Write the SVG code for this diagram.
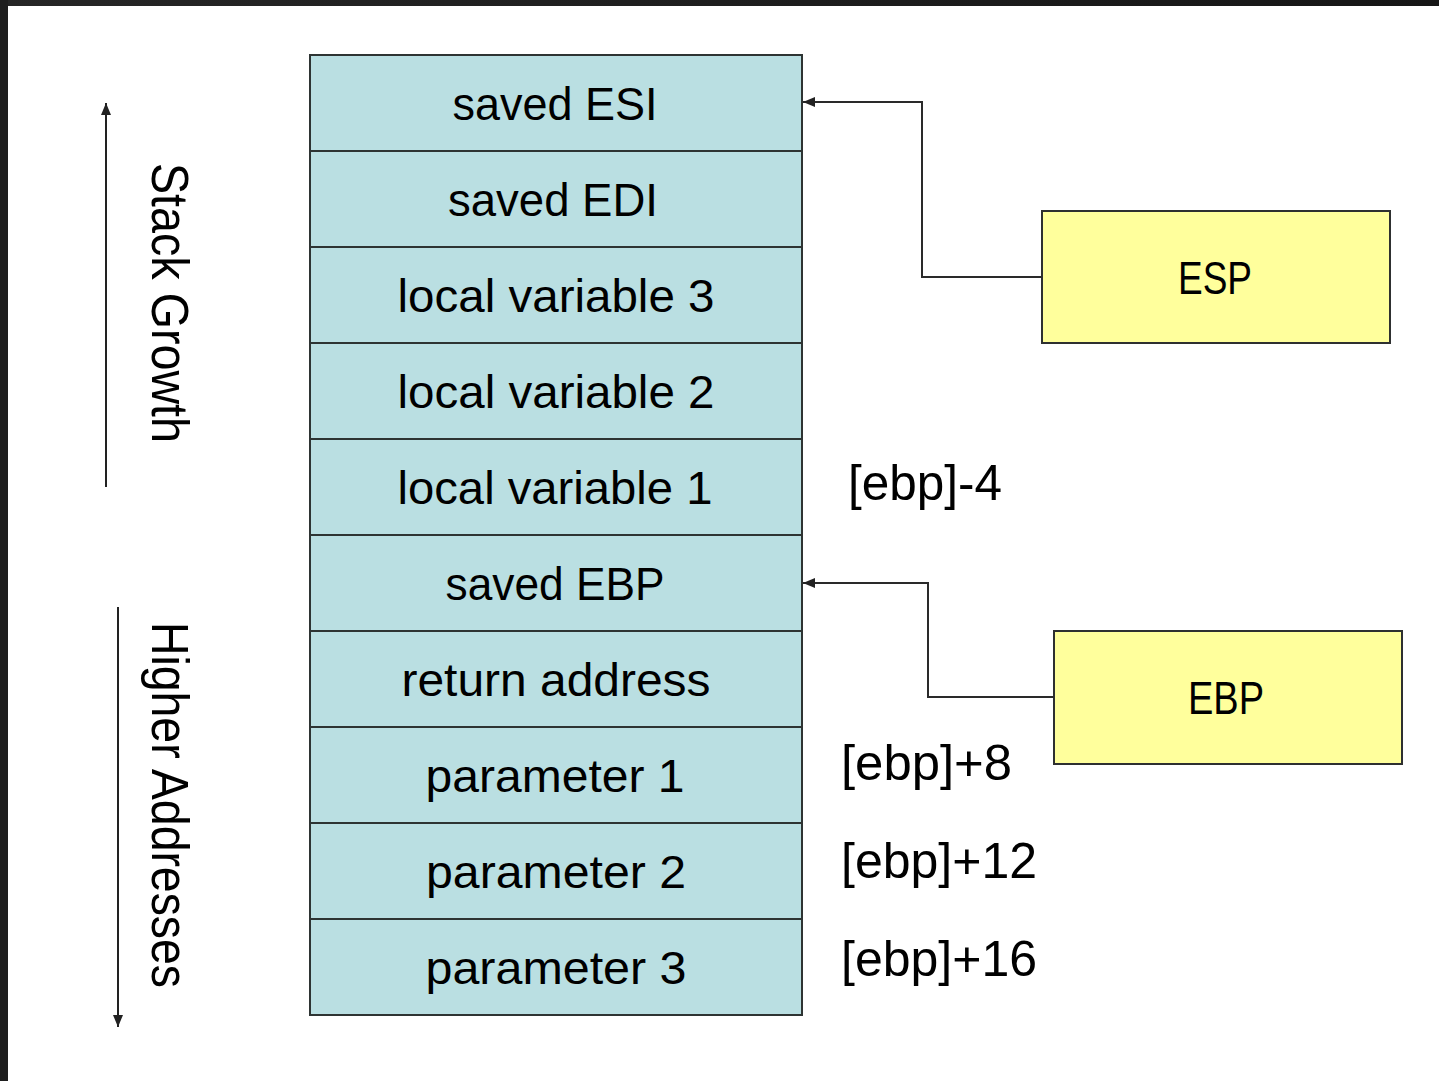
<svg xmlns="http://www.w3.org/2000/svg" width="1439" height="1081" viewBox="0 0 1439 1081">
  <defs>
    <linearGradient id="frameGrad" x1="0" y1="0" x2="1" y2="0">
      <stop offset="0" stop-color="#262626"/>
      <stop offset="1" stop-color="#161616"/>
    </linearGradient>
    <marker id="arrowHead" viewBox="0 0 12 10" refX="12" refY="5" markerWidth="12" markerHeight="10" markerUnits="userSpaceOnUse" orient="auto">
      <path d="M0,0 L12,5 L0,10 z" fill="#222"/>
    </marker>
    <style>
      .cell { fill: #BADFE2; stroke: #2e3433; stroke-width: 2; }
      .reg { fill: #FFFF9C; stroke: #2e3030; stroke-width: 2; }
      .cellText { font-family: "Liberation Sans", Arial, sans-serif; font-size: 46px; fill: #000; text-anchor: middle; }
      .regText { font-family: "Liberation Sans", Arial, sans-serif; font-size: 47px; fill: #000; text-anchor: middle; }
      .offText { font-family: "Liberation Sans", Arial, sans-serif; font-size: 50px; fill: #000; }
      .axisText { font-family: "Liberation Sans", Arial, sans-serif; font-size: 52px; fill: #000; }
      .conn { fill: none; stroke: #2a2a2a; stroke-width: 2; }
      .axis { fill: none; stroke: #222; stroke-width: 2; }
    </style>
  </defs>

  <!-- background and dark frame along the top and left edges -->
  <rect x="0" y="0" width="1439" height="1081" fill="#ffffff"/>
  <rect x="0" y="0" width="1439" height="6" fill="url(#frameGrad)"/>
  <rect x="0" y="0" width="8" height="1081" fill="#1e1e1e"/>

  <!-- direction indicators -->
  <g id="stack-growth">
    <line class="axis" x1="106" y1="487" x2="106" y2="103" marker-end="url(#arrowHead)"/>
    <text class="axisText" transform="translate(152,163) rotate(90)" textLength="280" lengthAdjust="spacingAndGlyphs">Stack Growth</text>
  </g>
  <g id="higher-addresses">
    <line class="axis" x1="118" y1="607" x2="118" y2="1027" marker-end="url(#arrowHead)"/>
    <text class="axisText" transform="translate(152,622) rotate(90)" textLength="366" lengthAdjust="spacingAndGlyphs">Higher Addresses</text>
  </g>

  <!-- stack frame cells, top (lowest address) to bottom -->
  <g id="cell-saved-esi">
    <rect class="cell" x="310" y="55" width="492" height="96"/>
    <text class="cellText" x="555" y="120" textLength="205" lengthAdjust="spacingAndGlyphs">saved ESI</text>
  </g>
  <g id="cell-saved-edi">
    <rect class="cell" x="310" y="151" width="492" height="96"/>
    <text class="cellText" x="553" y="216" textLength="210" lengthAdjust="spacingAndGlyphs">saved EDI</text>
  </g>
  <g id="cell-local-3">
    <rect class="cell" x="310" y="247" width="492" height="96"/>
    <text class="cellText" x="556" y="312" textLength="317" lengthAdjust="spacingAndGlyphs">local variable 3</text>
  </g>
  <g id="cell-local-2">
    <rect class="cell" x="310" y="343" width="492" height="96"/>
    <text class="cellText" x="556" y="408" textLength="317" lengthAdjust="spacingAndGlyphs">local variable 2</text>
  </g>
  <g id="cell-local-1">
    <rect class="cell" x="310" y="439" width="492" height="96"/>
    <text class="cellText" x="555" y="504" textLength="315" lengthAdjust="spacingAndGlyphs">local variable 1</text>
  </g>
  <g id="cell-saved-ebp">
    <rect class="cell" x="310" y="535" width="492" height="96"/>
    <text class="cellText" x="555" y="600" textLength="219" lengthAdjust="spacingAndGlyphs">saved EBP</text>
  </g>
  <g id="cell-return-address">
    <rect class="cell" x="310" y="631" width="492" height="96"/>
    <text class="cellText" x="556" y="696" textLength="309" lengthAdjust="spacingAndGlyphs">return address</text>
  </g>
  <g id="cell-param-1">
    <rect class="cell" x="310" y="727" width="492" height="96"/>
    <text class="cellText" x="555" y="792" textLength="259" lengthAdjust="spacingAndGlyphs">parameter 1</text>
  </g>
  <g id="cell-param-2">
    <rect class="cell" x="310" y="823" width="492" height="96"/>
    <text class="cellText" x="556" y="888" textLength="260" lengthAdjust="spacingAndGlyphs">parameter 2</text>
  </g>
  <g id="cell-param-3">
    <rect class="cell" x="310" y="919" width="492" height="96"/>
    <text class="cellText" x="556" y="984" textLength="261" lengthAdjust="spacingAndGlyphs">parameter 3</text>
  </g>

  <!-- frame-pointer relative offsets -->
  <g id="offset-local-1">
    <text class="offText" x="848" y="500" textLength="154" lengthAdjust="spacingAndGlyphs">[ebp]-4</text>
  </g>
  <g id="offset-param-1">
    <text class="offText" x="841" y="780" textLength="171" lengthAdjust="spacingAndGlyphs">[ebp]+8</text>
  </g>
  <g id="offset-param-2">
    <text class="offText" x="841" y="878" textLength="196" lengthAdjust="spacingAndGlyphs">[ebp]+12</text>
  </g>
  <g id="offset-param-3">
    <text class="offText" x="841" y="976" textLength="196" lengthAdjust="spacingAndGlyphs">[ebp]+16</text>
  </g>

  <!-- registers -->
  <g id="reg-esp">
    <rect class="reg" x="1042" y="211" width="348" height="132"/>
    <text class="regText" x="1215" y="294" textLength="74" lengthAdjust="spacingAndGlyphs">ESP</text>
  </g>
  <g id="reg-ebp">
    <rect class="reg" x="1054" y="631" width="348" height="133"/>
    <text class="regText" x="1226" y="714" textLength="76" lengthAdjust="spacingAndGlyphs">EBP</text>
  </g>

  <!-- register pointers into the stack -->
  <g id="connectors">
    <path class="conn" d="M1042,277 H922 V102 H803" marker-end="url(#arrowHead)"/>
    <path class="conn" d="M1054,697 H928 V583 H803" marker-end="url(#arrowHead)"/>
  </g>
</svg>
